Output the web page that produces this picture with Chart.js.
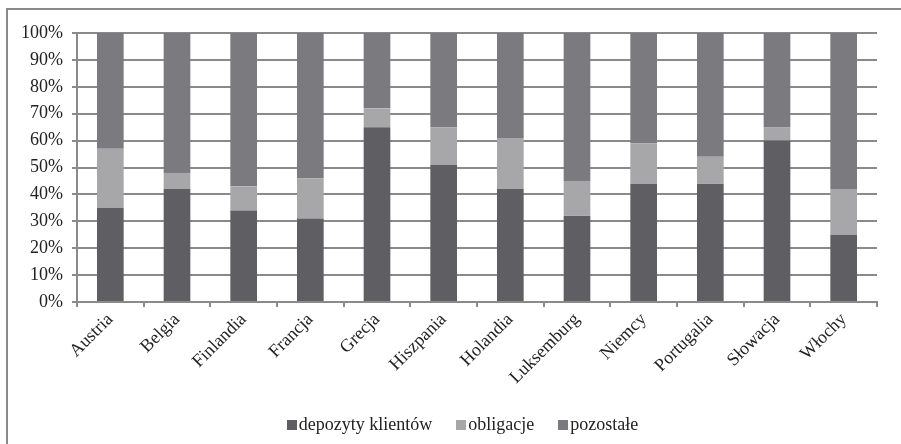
<!DOCTYPE html>
<html>
<head>
<meta charset="utf-8">
<script src="https://cdn.jsdelivr.net/npm/chart.js@4"></script>
<style>
  html, body { margin: 0; padding: 0; background: #fff; }
  #wrap { width: 901px; height: 444px; position: relative; }
  #legend {
    position: absolute; left: 12px; width: 901px; top: 414px; line-height: 20px;
    text-align: center; font-family: 'Liberation Serif', 'Times New Roman', serif;
    font-size: 18px; color: #222; white-space: nowrap;
  }
  #legend span.item { margin: 0 12px; }
  #legend span.box {
    display: inline-block; width: 10px; height: 10px; margin-right: 2px;
    vertical-align: 0px;
  }
</style>
</head>
<body>
<div id="wrap"><canvas id="chart"></canvas><div id="legend"></div></div>
<script>
// dane (%)
const categories = ['Austria', 'Belgia', 'Finlandia', 'Francja', 'Grecja', 'Hiszpania',
    'Holandia', 'Luksemburg', 'Niemcy', 'Portugalia', 'Słowacja', 'Włochy'];
const depozyty = [35, 42, 34, 31, 65, 51, 42, 32, 44, 44, 60, 25];
const obligacje = [22, 6, 9, 15, 7, 14, 19, 13, 15, 10, 5, 17];
const pozostale = [43, 52, 57, 54, 28, 35, 39, 55, 41, 46, 35, 58];
const yTicks = [0, 10, 20, 30, 40, 50, 60, 70, 80, 90, 100];

const FONT = "'Liberation Serif', 'Times New Roman', serif";

// ramka wokół całego wykresu
const borderPlugin = {
    id: 'outerBorder',
    afterDraw(chart) {
        const ctx = chart.ctx;
        ctx.save();
        ctx.strokeStyle = '#8a8a8a';
        ctx.lineWidth = 2;
        ctx.strokeRect(7, 9, 900, 445);
        ctx.restore();
    }
};

const ctx = document.getElementById('chart').getContext('2d');
const chart = new Chart(ctx, {
    type: 'bar',
    data: {
        labels: categories,
        datasets: [
            { label: 'depozyty klientów', data: depozyty, backgroundColor: '#5f5f63' },
            { label: 'obligacje', data: obligacje, backgroundColor: '#a7a7aa' },
            { label: 'pozostałe', data: pozostale, backgroundColor: '#7b7b7f' }
        ]
    },
    options: {
        responsive: true,
        maintainAspectRatio: false,
        animation: false,
        datasets: {
            bar: { categoryPercentage: 1, barPercentage: 0.4 }
        },
        layout: {
            padding: { left: 10, right: 24, top: 33, bottom: 52 }
        },
        plugins: {
            legend: { display: false },
            tooltip: { enabled: false }
        },
        scales: {
            x: {
                stacked: true,
                offset: true,
                grid: {
                    offset: true,
                    drawOnChartArea: false,
                    drawTicks: true,
                    tickLength: 5,
                    color: '#8a8a8a',
                    lineWidth: 2
                },
                border: { color: '#8a8a8a', width: 2 },
                ticks: {
                    color: '#222',
                    font: { family: FONT, size: 18 },
                    minRotation: 45,
                    maxRotation: 45,
                    autoSkip: false,
                    padding: 2
                },
                afterFit(scale) { scale.height = 90; }
            },
            y: {
                stacked: true,
                min: 0,
                max: 100,
                afterBuildTicks(scale) {
                    scale.ticks = yTicks.map(v => ({ value: v }));
                },
                grid: {
                    color: '#8a8a8a',
                    lineWidth: 2,
                    tickLength: 5
                },
                border: { color: '#8a8a8a', width: 2 },
                ticks: {
                    color: '#222',
                    font: { family: FONT, size: 18 },
                    padding: 9,
                    callback: v => v + '%'
                },
                afterFit(scale) { scale.width = 67; }
            }
        }
    },
    plugins: [borderPlugin]
});

// legenda jako zwykły tekst pod wykresem
const legend = document.getElementById('legend');
chart.data.datasets.forEach(ds => {
    const item = document.createElement('span');
    item.className = 'item';
    const box = document.createElement('span');
    box.className = 'box';
    box.style.background = ds.backgroundColor;
    item.appendChild(box);
    item.appendChild(document.createTextNode(ds.label));
    legend.appendChild(item);
});
</script>
</body>
</html>
